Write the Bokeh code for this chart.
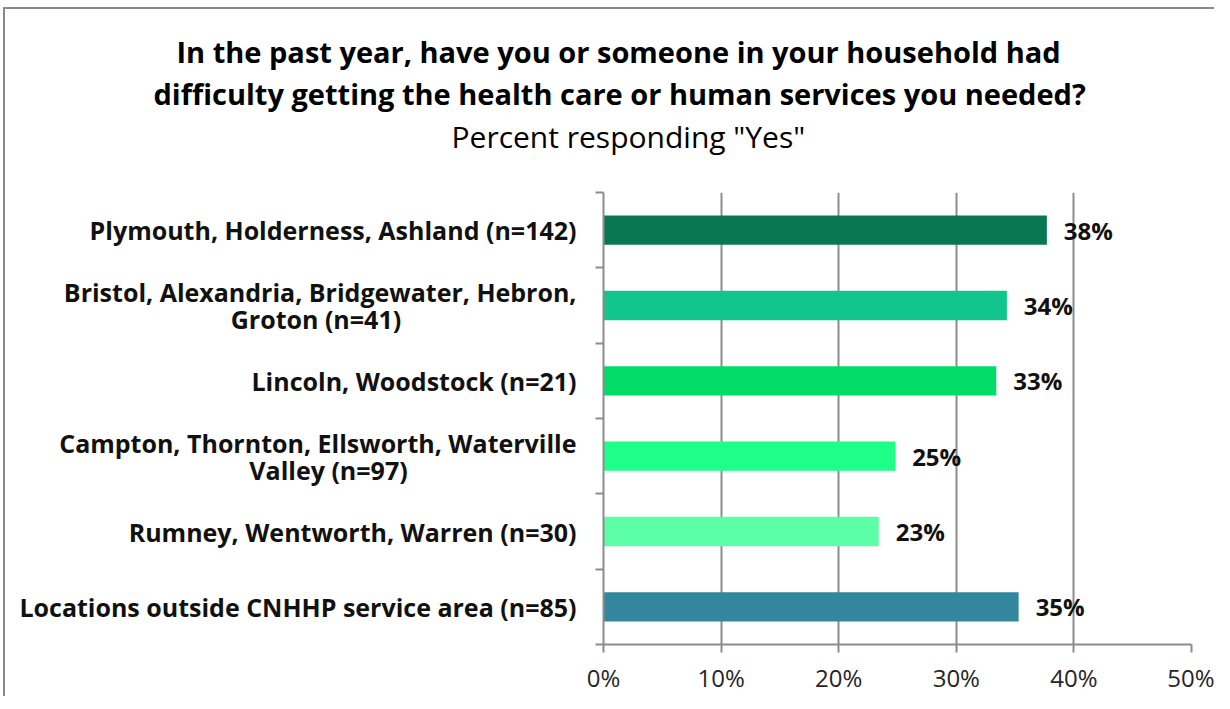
from bokeh.plotting import figure
from bokeh.models import Range1d, FixedTicker, PrintfTickFormatter, Title
from bokeh.core.properties import value
from bokeh.embed import file_html
from bokeh.resources import INLINE

categories = [
    "Plymouth, Holderness, Ashland (n=142)",
    "Bristol, Alexandria, Bridgewater, Hebron,\nGroton (n=41)",
    "Lincoln, Woodstock (n=21)",
    "Campton, Thornton, Ellsworth, Waterville\nValley (n=97)",
    "Rumney, Wentworth, Warren (n=30)",
    "Locations outside CNHHP service area (n=85)",
]
values = [37.7, 34.3, 33.4, 24.8, 23.4, 35.3]
labels = ["38%", "34%", "33%", "25%", "23%", "35%"]
colors = ["#0A7753", "#10C68C", "#00DC67", "#1EFF87", "#5CFFA6", "#32879E"]
x_ticks = [0, 10, 20, 30, 40, 50]

title_line1 = "In the past year, have you or someone in your household had"
title_line2 = "difficulty getting the health care or human services you needed?"
subtitle = 'Percent responding "Yes"'

FONT = "Open Sans"
NBSP = "\u00a0"


def centered_label(text, char_px=12.6, nbsp_px=6.5):
    """Pad the second line so it appears centred under the first (right-aligned axis labels)."""
    lines = text.split("\n")
    if len(lines) < 2:
        return text
    first = lines[0]
    out = [first]
    for ln in lines[1:]:
        pad = int(round((len(first) - len(ln)) * char_px / 2 / nbsp_px))
        out.append(ln + NBSP * max(pad, 0))
    return "\n".join(out)


centers = [i + 0.5 for i in range(len(categories))]
bounds = [float(i) for i in range(len(categories) + 1)]

p = figure(
    output_backend="svg", toolbar_location=None,
    frame_width=588, frame_height=452,
    min_border_left=603, min_border_right=23,
    min_border_top=192, min_border_bottom=49,
    x_range=Range1d(0, 50), y_range=Range1d(len(categories), 0),
    background_fill_color="white", border_fill_color=None,
)
p.outline_line_color = None
p.title.visible = False
p.styles = {
    "background": "linear-gradient(#898989,#898989) 3px 7px / 2px 100% no-repeat, "
                  "linear-gradient(#898989,#898989) 3px 7px / 100% 2px no-repeat, white",
}

# spacer between the subtitle and the plot area
spacer = Title(text=" ", align="left", text_font=FONT, text_font_size="10px",
               standoff=19)
p.add_layout(spacer, "above")
sub = Title(text=subtitle, align="left", offset=-152, text_font=FONT,
            text_font_style="normal", text_font_size="30px", text_color="#000000",
            standoff=2)
p.add_layout(sub, "above")
t2 = Title(text=title_line2, align="left", offset=-450, text_font=FONT,
           text_font_style="bold", text_font_size="29px", text_color="#000000",
           standoff=0)
p.add_layout(t2, "above")
t1 = Title(text=title_line1, align="left", offset=-427, text_font=FONT,
           text_font_style="bold", text_font_size="29px", text_color="#000000",
           standoff=2)
p.add_layout(t1, "above")

p.hbar(y=centers, right=values, left=0, height=0.39, fill_color=colors,
       line_color=None)

p.text(x=values, y=centers, text=labels, x_offset=17,
       text_baseline="middle", text_align="left",
       text_font=value(FONT), text_font_style="bold",
       text_font_size="24px", text_color="#111111")

# x axis
p.xaxis.ticker = FixedTicker(ticks=x_ticks)
p.xaxis.formatter = PrintfTickFormatter(format="%d%%")
p.xaxis.major_label_text_font = FONT
p.xaxis.major_label_text_font_size = "24px"
p.xaxis.major_label_text_color = "#262626"
p.xaxis.major_label_standoff = 8
p.xaxis.axis_line_color = "#8c8c8c"
p.xaxis.axis_line_width = 2
p.xaxis.major_tick_line_color = "#8c8c8c"
p.xaxis.major_tick_line_width = 2
p.xaxis.major_tick_in = 0
p.xaxis.major_tick_out = 8
p.xaxis.minor_tick_line_color = None

# y axis
p.yaxis.ticker = FixedTicker(ticks=centers, minor_ticks=bounds)
p.yaxis.major_label_overrides = {c: centered_label(lab) for c, lab in zip(centers, categories)}
p.yaxis.major_label_text_font = FONT
p.yaxis.major_label_text_font_style = "bold"
p.yaxis.major_label_text_font_size = "25px"
p.yaxis.major_label_text_line_height = 0.8
p.yaxis.major_label_text_color = "#111111"
p.yaxis.major_label_standoff = 19
p.yaxis.major_tick_line_color = None
p.yaxis.major_tick_out = 0
p.yaxis.major_tick_in = 0
p.yaxis.minor_tick_line_color = "#8c8c8c"
p.yaxis.minor_tick_line_width = 2
p.yaxis.minor_tick_in = 0
p.yaxis.minor_tick_out = 8
p.yaxis.axis_line_color = "#8c8c8c"
p.yaxis.axis_line_width = 2

p.xgrid.ticker = FixedTicker(ticks=x_ticks)
p.xgrid.grid_line_color = "#8c8c8c"
p.xgrid.grid_line_width = 2
p.ygrid.grid_line_color = None

open("out.html", "w").write(file_html(p, INLINE))
